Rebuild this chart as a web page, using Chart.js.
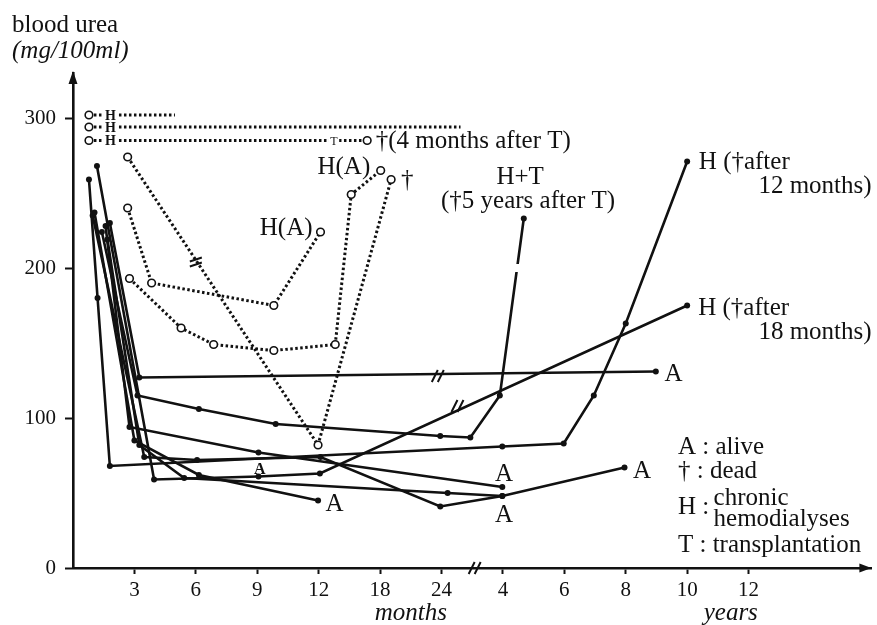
<!DOCTYPE html>
<html>
<head>
<meta charset="utf-8">
<script src="https://cdn.jsdelivr.net/npm/chart.js@4.4.1/dist/chart.umd.min.js"></script>
<style>
  html, body { margin: 0; padding: 0; background: #fff; }
  #wrap { width: 877px; height: 625px; }
</style>
</head>
<body>
<div id="wrap"><canvas id="chart" width="877" height="625"></canvas></div>
<script>
// x is measured in tick slots: 1..6 = 3,6,9,12,18,24 months, 7..11 = 4,6,8,10,12 years
const xTickSlots = [1, 2, 3, 4, 5, 6, 7, 8, 9, 10, 11];
const xTickLabels = ['3', '6', '9', '12', '18', '24', '4', '6', '8', '10', '12'];
const yTickValues = [0, 100, 200, 300];

// patients on hemodialysis (open circles, dotted)
const hemoShort = [[0.26, 302], [1.66, 302]];
const hemoLong = [[0.26, 294], [6.31, 294]];
const hemoTransplant = [[0.26, 285], [4.79, 285]];
const dottedA = [[0.89, 274], [3.99, 82], [5.18, 259]];
const dottedB = [[0.89, 240], [1.28, 190], [3.27, 175], [4.03, 224]];
const dottedC = [[0.92, 193], [1.76, 160], [2.29, 149], [3.27, 145], [4.27, 149], [4.53, 249], [5.01, 265]];

// patients with filled dots (solid)
const solid1 = [[0.60, 230], [1.08, 127], [9.49, 131]];
const solid2 = [[0.47, 224], [1.05, 115], [2.05, 106], [3.30, 96], [5.98, 88], [6.47, 87], [6.95, 115], [7.34, 233]];
const solid3 = [[0.26, 259], [0.40, 180], [0.60, 68], [6.99, 81], [7.99, 83], [8.48, 115], [9.00, 163], [10.0, 271]];
const solid4 = [[0.39, 268], [1.32, 59], [3.02, 61], [4.02, 63], [10.0, 175]];
const solid5 = [[0.35, 237], [1.00, 85], [2.05, 62], [3.99, 45]];
const solid6 = [[0.53, 228], [0.92, 94], [3.02, 77], [6.99, 54]];
const solid7 = [[0.32, 235], [1.16, 74], [2.02, 72], [4.03, 74], [5.98, 41], [6.99, 48], [8.98, 67]];
const solid8 = [[0.56, 219], [1.08, 82], [1.81, 60], [6.10, 50], [6.99, 48]];

const serif = "'Liberation Serif', 'DejaVu Serif', serif";

// text notes placed in data units
const notes = [
  { t: 'H', x: 0.61, y: 302, size: 14, bold: true, align: 'center', bg: true },
  { t: 'H', x: 0.61, y: 294, size: 14, bold: true, align: 'center', bg: true },
  { t: 'H', x: 0.61, y: 285, size: 14, bold: true, align: 'center', bg: true },
  { t: 'T', x: 4.25, y: 285, size: 12, align: 'center', bg: true },
  { t: '†(4 months after T)', x: 4.93, y: 285, align: 'left' },
  { t: 'H(A)', x: 3.90, y: 227, align: 'right' },
  { t: 'H(A)', x: 4.84, y: 268, align: 'right' },
  { t: '†', x: 5.34, y: 259, align: 'left' },
  { t: 'H+T', x: 7.28, y: 261, align: 'center' },
  { t: '(†5 years after T)', x: 7.41, y: 245, align: 'center' },
  { t: 'H (†after', x: 10.19, y: 271, align: 'left' },
  { t: '12 months)', x: 11.16, y: 255, align: 'left' },
  { t: 'H (†after', x: 10.18, y: 174, align: 'left' },
  { t: '18 months)', x: 11.16, y: 158, align: 'left' },
  { t: 'A', x: 9.63, y: 130, align: 'left' },
  { t: 'A', x: 7.02, y: 63, align: 'center' },
  { t: 'A', x: 7.02, y: 36, align: 'center' },
  { t: 'A', x: 9.12, y: 65, align: 'left' },
  { t: 'A', x: 4.11, y: 43, align: 'left' },
  { t: 'A', x: 3.04, y: 66, size: 16, bold: true, align: 'center' },
  { t: 'A : alive', x: 9.85, y: 81, align: 'left' },
  { t: '† : dead', x: 9.85, y: 65, align: 'left' },
  { t: 'H :', x: 9.85, y: 41, align: 'left' },
  { t: 'chronic', x: 10.43, y: 47, align: 'left' },
  { t: 'hemodialyses', x: 10.43, y: 33, align: 'left' },
  { t: 'T : transplantation', x: 9.85, y: 16, align: 'left' }
];

// time-break marks on lines and axis
const breaks = [
  { x: 5.94, y: 128, kind: 'slash' },
  { x: 6.26, y: 108, kind: 'slash' },
  { x: 6.54, y: 0, kind: 'slash' },
  { x: 2.00, y: 204, kind: 'equal' },
  { x: 7.20, y: 200, kind: 'gap' }
];

function pts(arr) {
  return arr.map(p => ({ x: p[0], y: p[1] }));
}

function dotted(arr, radii) {
  return {
    data: pts(arr),
    borderColor: '#111',
    borderWidth: 3,
    borderDash: [2.5, 2.5],
    pointRadius: radii || 3.8,
    pointBorderWidth: 1.6,
    pointBorderColor: '#111',
    pointBackgroundColor: '#fff',
    tension: 0
  };
}

function solid(arr) {
  return {
    data: pts(arr),
    borderColor: '#111',
    borderWidth: 2.6,
    pointRadius: 3,
    pointBorderWidth: 0,
    pointBackgroundColor: '#111',
    tension: 0
  };
}

const notesPlugin = {
  id: 'notes',
  afterDatasetsDraw(chart) {
    const { ctx, chartArea, scales: { x, y } } = chart;
    ctx.save();

    // break marks
    breaks.forEach(b => {
      const px = x.getPixelForValue(b.x);
      const py = y.getPixelForValue(b.y);
      if (b.kind === 'gap') {
        ctx.fillStyle = '#fff';
        ctx.fillRect(px - 5, py - 4, 10, 8);
        return;
      }
      ctx.strokeStyle = '#111';
      ctx.lineWidth = 2;
      ctx.beginPath();
      if (b.kind === 'slash') {
        [-3, 3].forEach(o => {
          ctx.moveTo(px + o - 3, py + 6);
          ctx.lineTo(px + o + 3, py - 6);
        });
      } else {
        [-2.5, 2.5].forEach(o => {
          ctx.moveTo(px - 6, py + o + 2);
          ctx.lineTo(px + 6, py + o - 2);
        });
      }
      ctx.stroke();
    });

    // axis arrowheads
    ctx.fillStyle = '#111';
    ctx.beginPath();
    ctx.moveTo(chartArea.left, chartArea.top - 2);
    ctx.lineTo(chartArea.left - 4.5, chartArea.top + 11);
    ctx.lineTo(chartArea.left + 4.5, chartArea.top + 11);
    ctx.closePath();
    ctx.fill();
    ctx.beginPath();
    ctx.moveTo(chartArea.right, chartArea.bottom);
    ctx.lineTo(chartArea.right - 12, chartArea.bottom - 4.5);
    ctx.lineTo(chartArea.right - 12, chartArea.bottom + 4.5);
    ctx.closePath();
    ctx.fill();

    // notes
    ctx.textBaseline = 'middle';
    notes.forEach(n => {
      const px = x.getPixelForValue(n.x);
      const py = y.getPixelForValue(n.y);
      ctx.font = (n.bold ? 'bold ' : '') + (n.size || 25) + 'px ' + serif;
      ctx.textAlign = n.align;
      if (n.bg) {
        const w = ctx.measureText(n.t).width;
        const h = (n.size || 25) * 0.9;
        let left = px;
        if (n.align === 'center') left = px - w / 2;
        if (n.align === 'right') left = px - w;
        ctx.fillStyle = '#fff';
        ctx.fillRect(left - 1.5, py - h / 2, w + 3, h);
      }
      ctx.fillStyle = '#111';
      ctx.fillText(n.t, px, py + 1);
    });

    // axis titles
    ctx.textBaseline = 'alphabetic';
    ctx.textAlign = 'left';
    ctx.font = '25px ' + serif;
    ctx.fillText('blood urea', chartArea.left - 61, chartArea.top - 41);
    ctx.font = 'italic 25px ' + serif;
    ctx.fillText('(mg/100ml)', chartArea.left - 61, chartArea.top - 15);
    ctx.textAlign = 'center';
    ctx.fillText('months', x.getPixelForValue(5.5), chartArea.bottom + 52);
    ctx.fillText('years', x.getPixelForValue(10.71), chartArea.bottom + 52);
    ctx.restore();
  }
};

new Chart(document.getElementById('chart'), {
  type: 'line',
  data: {
    datasets: [
      dotted(hemoShort, [3.8, 0]),
      dotted(hemoLong, [3.8, 0]),
      dotted(hemoTransplant),
      dotted(dottedA),
      dotted(dottedB),
      dotted(dottedC),
      solid(solid1),
      solid(solid2),
      solid(solid3),
      solid(solid4),
      solid(solid5),
      solid(solid6),
      solid(solid7),
      solid(solid8)
    ]
  },
  options: {
    responsive: false,
    devicePixelRatio: 1,
    animation: false,
    layout: { padding: { top: 73, left: 0, right: 0, bottom: 0 } },
    plugins: {
      legend: { display: false },
      tooltip: { enabled: false }
    },
    scales: {
      x: {
        type: 'linear',
        min: 0,
        max: 13,
        afterBuildTicks: scale => { scale.ticks = xTickSlots.map(v => ({ value: v })); },
        afterFit: scale => { scale.height = 57; },
        ticks: {
          callback: value => xTickLabels[xTickSlots.indexOf(value)],
          color: '#111',
          font: { family: serif, size: 21 },
          padding: 4,
          maxRotation: 0,
          autoSkip: false
        },
        grid: { drawOnChartArea: false, drawTicks: true, tickLength: 6, tickWidth: 2, tickColor: '#111' },
        border: { display: true, color: '#111', width: 2.6 }
      },
      y: {
        min: 0,
        max: 330,
        afterBuildTicks: scale => { scale.ticks = yTickValues.map(v => ({ value: v })); },
        afterFit: scale => { scale.width = 73; },
        ticks: {
          color: '#111',
          font: { family: serif, size: 21 },
          padding: 9
        },
        grid: { drawOnChartArea: false, drawTicks: true, tickLength: 8, tickWidth: 2, tickColor: '#111' },
        border: { display: true, color: '#111', width: 2.6 }
      }
    }
  },
  plugins: [notesPlugin]
});
</script>
</body>
</html>
